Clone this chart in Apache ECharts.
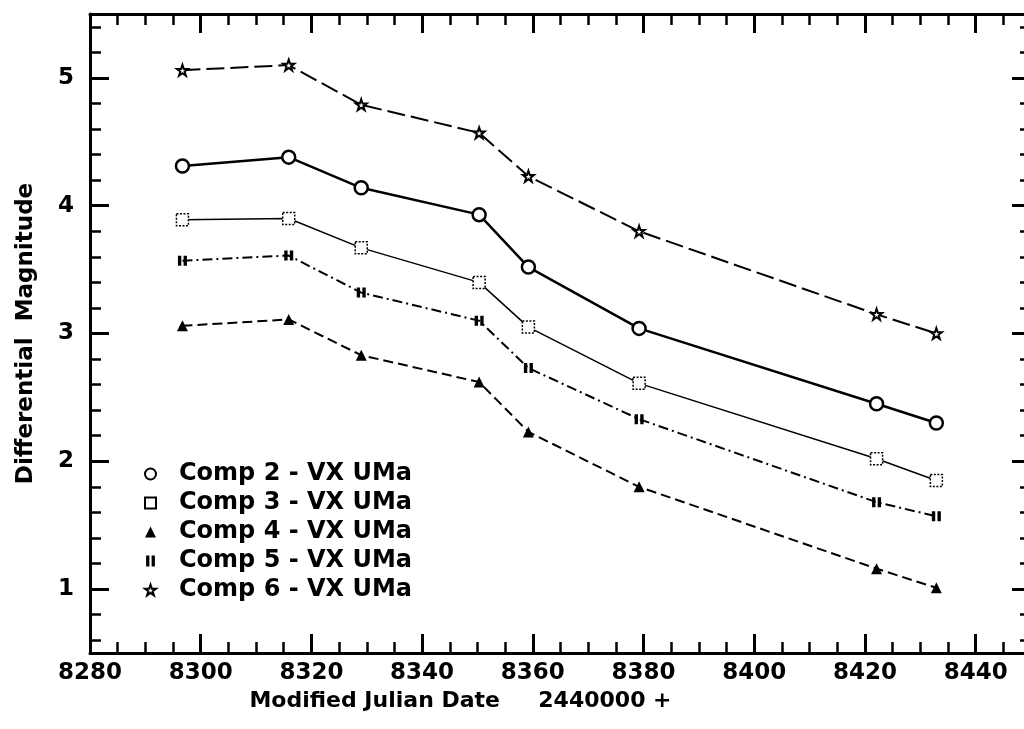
<!DOCTYPE html>
<html>
<head>
<meta charset="utf-8">
<script src="https://cdn.jsdelivr.net/npm/echarts@6/dist/echarts.min.js"></script>
<style>
  html, body { margin: 0; padding: 0; background: #fff; overflow: hidden; }
  #chart { width: 1040px; height: 729px; }
</style>
</head>
<body>
<div id="chart"></div>
<script>
// observation dates (MJD - 2440000)
const mjd = [8296.7, 8315.9, 8329.0, 8350.3, 8359.2, 8379.2, 8422.1, 8432.9]
// differential magnitudes per comparison star
const comp2 = [4.31, 4.38, 4.14, 3.93, 3.52, 3.04, 2.45, 2.30]
const comp3 = [3.89, 3.90, 3.67, 3.40, 3.05, 2.61, 2.02, 1.85]
const comp4 = [3.06, 3.11, 2.83, 2.62, 2.23, 1.80, 1.16, 1.01]
const comp5 = [3.57, 3.61, 3.32, 3.10, 2.73, 2.33, 1.68, 1.57]
const comp6 = [5.06, 5.10, 4.79, 4.57, 4.23, 3.80, 3.15, 3.00]
const names = ['Comp 2 - VX UMa', 'Comp 3 - VX UMa', 'Comp 4 - VX UMa', 'Comp 5 - VX UMa', 'Comp 6 - VX UMa']
// tick values
const yMajor = [1, 2, 3, 4, 5]
const yMinor = [0.6, 0.8, 1.2, 1.4, 1.6, 1.8, 2.2, 2.4, 2.6, 2.8, 3.2, 3.4, 3.6, 3.8, 4.2, 4.4, 4.6, 4.8, 5.2, 5.4]

const FONT = '"DejaVu Sans", sans-serif'
const STAR = 'path://M50,2 L62,38 L98,38 L69,60 L80,96 L50,74 L20,96 L31,60 L2,38 L38,38 Z'
const BARS = 'path://M0,0 H3 V10 H0 Z M5,0 H8 V10 H5 Z'

let pairs = function (ys) {
  let out = []
  for (let i = 0; i < mjd.length; i++) {
    out.push([mjd[i], ys[i]])
  }
  return out
}

let xAx = function (pos, interval, len, width, labels) {
  return {
    type: 'value', position: pos, min: 8280, max: 8450, interval: interval,
    axisLine: { show: labels, lineStyle: { color: '#000', width: 3 } },
    axisTick: { show: true, inside: true, length: len, lineStyle: { color: '#000', width: width } },
    axisLabel: {
      show: labels, showMaxLabel: false, margin: 9,
      formatter: function (v) { return String(v) },
      color: '#000', fontFamily: FONT, fontWeight: 'bold', fontSize: 23
    },
    splitLine: { show: false }
  }
}

let yAx = function (pos, vals, len, width, labels) {
  return {
    type: 'value', position: pos, min: 0.5, max: 5.5,
    axisLine: { show: labels, lineStyle: { color: '#000', width: 3 } },
    axisTick: { show: true, inside: true, length: len, customValues: vals, lineStyle: { color: '#000', width: width } },
    axisLabel: {
      show: labels, customValues: vals, margin: 16,
      color: '#000', fontFamily: FONT, fontWeight: 'bold', fontSize: 23
    },
    splitLine: { show: false }
  }
}

const chart = echarts.init(document.getElementById('chart'))

let xAxes = [
  xAx('bottom', 20, 19, 3, true),
  xAx('bottom', 5, 11, 2.5, false),
  xAx('top', 20, 19, 3, true),
  xAx('top', 5, 11, 2.5, false)
]
xAxes[2].axisLabel.show = false
xAxes[0].name = 'Modified Julian Date     2440000 +'
xAxes[0].nameLocation = 'middle'
xAxes[0].nameGap = 37
xAxes[0].nameTextStyle = { color: '#000', fontFamily: FONT, fontWeight: 'bold', fontSize: 22, padding: [0, 200, 0, 0] }

let yAxes = [
  yAx('left', yMajor, 19, 3, true),
  yAx('left', yMinor, 11, 2.5, false),
  yAx('right', yMajor, 19, 3, true),
  yAx('right', yMinor, 11, 2.5, false)
]
yAxes[2].axisLabel.show = false
yAxes[0].name = 'Differential  Magnitude'
yAxes[0].nameLocation = 'middle'
yAxes[0].nameGap = 52
yAxes[0].nameTextStyle = { color: '#000', fontFamily: FONT, fontWeight: 'bold', fontSize: 23 }

const option = {
  animation: false,
  backgroundColor: '#fff',
  grid: { left: 90, right: 9, top: 14, bottom: 76 },
  legend: {
    orient: 'vertical',
    left: 139,
    top: 457,
    itemWidth: 11,
    itemHeight: 11,
    itemGap: 5,
    textStyle: { color: '#000', fontFamily: FONT, fontWeight: 'bold', fontSize: 24, lineHeight: 23.5, padding: [0, 0, 0, 18] },
    data: [
      { name: names[0], icon: 'circle' },
      { name: names[1], icon: 'rect' },
      { name: names[2], icon: 'triangle' },
      { name: names[3], icon: BARS },
      { name: names[4], icon: STAR }
    ]
  },
  xAxis: xAxes,
  yAxis: yAxes,
  series: [
    {
      name: names[0], type: 'line', data: pairs(comp2),
      symbol: 'circle', symbolSize: 13,
      itemStyle: { color: '#fff', borderColor: '#000', borderWidth: 2.5 },
      lineStyle: { color: '#000', width: 2.5 }
    },
    {
      name: names[1], type: 'line', data: pairs(comp3),
      symbol: 'rect', symbolSize: 12,
      itemStyle: { color: '#fff', borderColor: '#000', borderWidth: 1.5, borderType: [2, 1.5] },
      lineStyle: { color: '#000', width: 1.5 }
    },
    {
      name: names[2], type: 'line', data: pairs(comp4),
      symbol: 'triangle', symbolSize: 11,
      itemStyle: { color: '#000', borderColor: '#000', borderWidth: 0 },
      lineStyle: { color: '#000', width: 2, type: [10, 5] }
    },
    {
      name: names[3], type: 'line', data: pairs(comp5),
      symbol: BARS, symbolSize: [9, 10],
      itemStyle: { color: '#000', borderColor: '#000', borderWidth: 0 },
      lineStyle: { color: '#000', width: 2, type: [10, 4, 2, 4] }
    },
    {
      name: names[4], type: 'line', data: pairs(comp6),
      symbol: STAR, symbolSize: 11,
      itemStyle: { color: '#fff', borderColor: '#000', borderWidth: 2 },
      lineStyle: { color: '#000', width: 2, type: [18, 6] }
    }
  ]
}
chart.setOption(option)
</script>
</body>
</html>
